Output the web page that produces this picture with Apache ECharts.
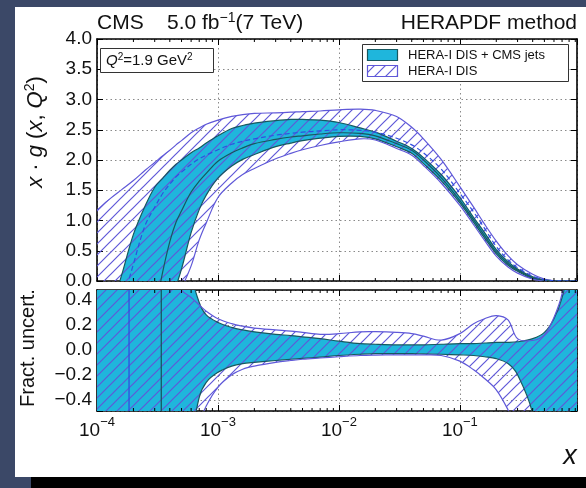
<!DOCTYPE html>
<html><head><meta charset="utf-8">
<script src="https://cdn.jsdelivr.net/npm/echarts@6/dist/echarts.min.js"></script>
<style>
html,body{margin:0;padding:0;background:#3b4867;width:586px;height:488px;overflow:hidden;}
#panel{position:absolute;left:15px;top:7px;width:571px;height:470px;background:#fff;}
#bar{position:absolute;left:31px;top:477px;width:555px;height:11px;background:#000;}
#c{position:absolute;left:0;top:0;width:586px;height:488px;}
</style>
</head><body>
<div id="panel"></div><div id="bar"></div><div id="c"></div>
<script>
// ---------------- data ----------------
const xs = [1e-4,1.3e-4,1.6e-4,2e-4,2.5e-4,3e-4,3.5e-4,4e-4,4.5e-4,5e-4,6e-4,7e-4,8e-4,1e-3,1.3e-3,1.6e-3,2e-3,3e-3,4e-3,5e-3,7e-3,0.01,0.015,0.02,0.03,0.04,0.05,0.07,0.1,0.13,0.16,0.2,0.25,0.3,0.4,0.5,0.6,0.7,0.8,0.93];

// top panel: x*g(x,Q^2)
const cmsUp  = [-1.3,-0.5,0.1,0.77,1.24,1.55,1.7,1.83,1.93,2.0,2.12,2.2,2.28,2.40,2.52,2.57,2.61,2.65,2.67,2.67,2.66,2.62,2.53,2.46,2.31,2.19,2.04,1.76,1.38,1.05,0.80,0.52,0.32,0.20,0.07,0.02,0.005,0,0,0];
const cmsLo  = [-3.0,-2.5,-2.0,-1.5,-1.1,-0.75,-0.5,-0.3,-0.08,0.2,0.8,1.18,1.42,1.70,1.90,2.01,2.09,2.22,2.28,2.32,2.36,2.39,2.39,2.35,2.22,2.11,1.94,1.66,1.29,0.97,0.71,0.45,0.26,0.16,0.04,0.01,0.002,0,0,0];
const cmsC   = [-3.0,-2.4,-1.9,-1.4,-1.0,-0.5,0.16,0.65,0.97,1.16,1.47,1.65,1.78,1.98,2.12,2.20,2.27,2.34,2.38,2.40,2.43,2.45,2.44,2.40,2.27,2.16,2.00,1.71,1.33,1.01,0.75,0.48,0.29,0.18,0.055,0.015,0.003,0,0,0];
const heraUp = [1.17,1.37,1.51,1.66,1.83,1.96,2.07,2.16,2.25,2.32,2.45,2.53,2.59,2.66,2.72,2.75,2.77,2.78,2.79,2.80,2.81,2.83,2.84,2.82,2.72,2.54,2.35,2.01,1.56,1.22,0.94,0.66,0.42,0.27,0.11,0.03,0.005,0,0,0];
const heraLo = [-3.0,-2.6,-2.2,-1.8,-1.4,-1.0,-0.75,-0.5,-0.3,-0.12,0.25,0.68,0.96,1.38,1.62,1.76,1.86,2.02,2.11,2.17,2.24,2.30,2.35,2.33,2.19,2.08,1.91,1.62,1.25,0.93,0.67,0.41,0.23,0.13,0.03,0.005,0,0,0,0];
const heraC  = [-2.0,-1.0,-0.4,0.28,0.92,1.22,1.45,1.60,1.72,1.80,1.93,2.02,2.08,2.17,2.26,2.31,2.35,2.41,2.44,2.46,2.48,2.50,2.49,2.46,2.36,2.25,2.12,1.85,1.45,1.14,0.87,0.57,0.35,0.22,0.08,0.02,0.005,0,0,0];

// bottom panel: fractional uncertainty
const fracCmsUp  = [3,3,3,3,3,3,3,3,2.5,1.5,0.62,0.38,0.28,0.22,0.18,0.16,0.145,0.125,0.115,0.105,0.09,0.07,0.05,0.045,0.04,0.04,0.04,0.045,0.05,0.05,0.055,0.06,0.06,0.065,0.09,0.14,0.25,0.42,0.7,1.5];
const fracCmsLo  = [-3,-3,-3,-3,-3,-3,-3,-3,-3,-1.5,-0.75,-0.38,-0.26,-0.18,-0.13,-0.11,-0.1,-0.085,-0.075,-0.068,-0.058,-0.045,-0.035,-0.03,-0.03,-0.03,-0.032,-0.035,-0.04,-0.045,-0.055,-0.07,-0.11,-0.2,-0.52,-1.5,-3,-3,-3,-3];
const fracHeraUp = [3,3,3,3,3,3,3,1.0,0.62,0.48,0.42,0.36,0.31,0.25,0.21,0.19,0.175,0.16,0.15,0.14,0.125,0.13,0.145,0.146,0.14,0.13,0.11,0.078,0.13,0.21,0.25,0.275,0.24,0.09,0.075,0.12,0.26,0.45,0.8,1.5];
const fracHeraLo = [-3,-3,-3,-3,-3,-3,-3,-3,-2.0,-1.5,-0.9,-0.6,-0.45,-0.3,-0.2,-0.155,-0.13,-0.1,-0.085,-0.075,-0.065,-0.055,-0.045,-0.042,-0.04,-0.04,-0.04,-0.045,-0.09,-0.16,-0.23,-0.32,-0.48,-0.65,-1.5,-3,-3,-3,-3,-3];

// x where the central values cross zero: [HERA-I DIS, HERA-I DIS + CMS jets]
const zeroCrossX = [1.84e-4, 3.4e-4];

const minorTicksX = [2e-4,3e-4,4e-4,5e-4,6e-4,7e-4,8e-4,9e-4,2e-3,3e-3,4e-3,5e-3,6e-3,7e-3,8e-3,9e-3,0.02,0.03,0.04,0.05,0.06,0.07,0.08,0.09,0.2,0.3,0.4,0.5,0.6,0.7,0.8,0.9];
const legendLabels = ['HERA-I DIS + CMS jets', 'HERA-I DIS'];

// ---------------- style ----------------
const FONT = '"Liberation Sans", Arial, Helvetica, sans-serif';
const CYAN = '#1fb6dc';
const CYAN_EDGE = '#17585f';
const HERA = '#5f58d8';
const HERA_C = '#2f4fe0';
const SMOOTH = 0.35;

function makeHatch(color, lw, s){
  const c = document.createElement('canvas'); c.width = s; c.height = s;
  const g = c.getContext('2d'); g.strokeStyle = color; g.lineWidth = lw;
  g.beginPath();
  g.moveTo(-2, s+2); g.lineTo(s+2, -2);
  g.moveTo(-2, 2); g.lineTo(2, -2);
  g.moveTo(s-2, s+2); g.lineTo(s+2, s-2);
  g.stroke();
  return c;
}
const hatch = {image: makeHatch(HERA, 1.2, 11), repeat: 'repeat'};

function bandSeries(xi, up, lo, fill, stroke, lw){
  return {
    type:'custom', xAxisIndex:xi, yAxisIndex:xi, clip:true, silent:true,
    data:[[xs[0], 0]],
    renderItem:(params, api)=>{
      const U = xs.map((x,i)=>api.coord([x, up[i]]));
      const L = xs.map((x,i)=>api.coord([x, lo[i]]));
      const ch = [];
      if (fill) ch.push({type:'polygon', shape:{points:U.concat(L.slice().reverse()), smooth:SMOOTH}, style:{fill:fill, stroke:null}});
      if (stroke) {
        ch.push({type:'polyline', shape:{points:U, smooth:SMOOTH}, style:{stroke:stroke, lineWidth:lw, fill:null}});
        ch.push({type:'polyline', shape:{points:L, smooth:SMOOTH}, style:{stroke:stroke, lineWidth:lw, fill:null}});
      }
      return {type:'group', children:ch};
    }
  };
}
function lineSeries(xi, vals, stroke, lw, dash){
  return {
    type:'custom', xAxisIndex:xi, yAxisIndex:xi, clip:true, silent:true,
    data:[[xs[0], 0]],
    renderItem:(params, api)=>({type:'polyline', shape:{points: xs.map((x,i)=>api.coord([x, vals[i]])), smooth:SMOOTH},
      style:{stroke:stroke, lineWidth:lw, fill:null, lineDash: dash || null}})
  };
}
function minorTickSeries(xi){
  return {
    type:'custom', xAxisIndex:xi, yAxisIndex:xi, silent:true,
    data: minorTicksX.map(v=>[v, 0]),
    renderItem:(params, api)=>{
      const cs = params.coordSys;
      const px = api.coord([api.value(0), 0])[0];
      return {type:'group', children:[
        {type:'line', shape:{x1:px, y1:cs.y+cs.height, x2:px, y2:cs.y+cs.height-3}, style:{stroke:'#000', lineWidth:1}},
        {type:'line', shape:{x1:px, y1:cs.y, x2:px, y2:cs.y+3}, style:{stroke:'#000', lineWidth:1}}
      ]};
    }
  };
}
function zeroLineSeries(xi){
  const cols = [HERA_C, CYAN_EDGE];
  return {
    type:'custom', xAxisIndex:xi, yAxisIndex:xi, silent:true,
    data: zeroCrossX.map(v=>[v, 0]),
    renderItem:(params, api)=>{
      const cs = params.coordSys;
      const px = api.coord([api.value(0), 0])[0];
      return {type:'line', shape:{x1:px, y1:cs.y, x2:px, y2:cs.y+cs.height},
        style:{stroke:cols[params.dataIndex], lineWidth:1.3}};
    }
  };
}

const axisLineStyle = {color:'#000', width:1.6};
const dotted = {color:'#8a8a8a', width:1, type:[1.5,3]};
function xAx(grid, pos, labels, split){
  return {
    gridIndex:grid, type:'log', logBase:10, min:1e-4, max:0.93, position:pos,
    axisLine:{show:true, onZero:false, lineStyle:axisLineStyle},
    axisTick:{show:true, inside:true, length:6, lineStyle:{color:'#000', width:1}},
    splitLine:{show:split, lineStyle:dotted},
    axisLabel: labels ? {
      show:true, margin:5, color:'#111', fontFamily:FONT,
      formatter:(v)=>{
        const e = Math.log10(v); const r = Math.round(e);
        if (Math.abs(e-r) > 1e-6) return '';
        return '{b|10}{s|\u2212' + (-r) + '}';
      },
      rich:{
        b:{fontSize:19, fontFamily:FONT, color:'#111', lineHeight:24, verticalAlign:'bottom'},
        s:{fontSize:13, fontFamily:FONT, color:'#111', lineHeight:14, verticalAlign:'top'}
      }
    } : {show:false}
  };
}
function yAx(grid, pos, labels, split, range){
  const o = {
    gridIndex:grid, type:'value', position:pos, min:range[0], max:range[1],
    axisLine:{show:true, onZero:false, lineStyle:axisLineStyle},
    axisTick:{show:true, inside:true, length:6, lineStyle:{color:'#000', width:1}},
    splitLine:{show:split, lineStyle:dotted},
    axisLabel: labels ? {
      show:true, margin:5, fontSize:19, fontFamily:FONT, color:'#111',
      formatter:(v)=>{
        if (v < range[0] + 1e-6 && grid===1) return '';
        if (v > range[1] - 1e-6 && grid===1) return '';
        return (v < -1e-9 ? '\u2212' : '') + Math.abs(v).toFixed(1);
      }
    } : {show:false}
  };
  if (range[2]) o.interval = range[2]; else o.splitNumber = 5;
  return o;
}

const topRange = [0, 4, 0.5];
const botRange = [-0.49, 0.48];

const option = {
  animation:false,
  backgroundColor:'transparent',
  grid:[
    {left:97, top:39, width:480, height:242},
    {left:97, top:290, width:480, height:121}
  ],
  xAxis:[
    xAx(0,'bottom',false,true), xAx(0,'top',false,false),
    xAx(1,'bottom',true,true), xAx(1,'top',false,false)
  ],
  yAxis:[
    yAx(0,'left',true,true,topRange), yAx(0,'right',false,false,topRange),
    yAx(1,'left',true,true,botRange), yAx(1,'right',false,false,botRange)
  ],
  series:[
    bandSeries(0, cmsUp, cmsLo, CYAN, null, 0),
    bandSeries(0, heraUp, heraLo, hatch, null, 0),
    bandSeries(0, cmsUp, cmsLo, null, CYAN_EDGE, 1.2),
    bandSeries(0, heraUp, heraLo, null, HERA, 1.2),
    lineSeries(0, cmsC, CYAN_EDGE, 1.2, null),
    lineSeries(0, heraC, HERA_C, 1.2, [5,3]),
    minorTickSeries(0),

    bandSeries(2, fracCmsUp, fracCmsLo, CYAN, null, 0),
    bandSeries(2, fracHeraUp, fracHeraLo, hatch, null, 0),
    bandSeries(2, fracCmsUp, fracCmsLo, null, CYAN_EDGE, 1.2),
    bandSeries(2, fracHeraUp, fracHeraLo, null, HERA, 1.2),
    zeroLineSeries(2),
    minorTickSeries(2)
  ],
  graphic:[
    {type:'text', x:97, y:23, style:{text:'CMS', fontSize:21, fontFamily:FONT, fill:'#111', verticalAlign:'middle'}},
    {type:'text', x:167, y:23, style:{text:'{n|5.0 fb}{s|\u22121}{n|(7 TeV)}', verticalAlign:'middle',
      rich:{n:{fontSize:21, fontFamily:FONT, fill:'#111', lineHeight:24}, s:{fontSize:14, fontFamily:FONT, fill:'#111', lineHeight:14, verticalAlign:'top'}}}},
    {type:'text', x:577, y:23, style:{text:'HERAPDF method', fontSize:21, fontFamily:FONT, fill:'#111', align:'right', verticalAlign:'middle'}},
    // Q^2 box
    {type:'rect', shape:{x:100.5, y:48.5, width:113, height:24}, style:{fill:'#fff', stroke:'#333', lineWidth:1}, z:100},
    {type:'text', x:106, y:61, z:101, style:{text:'{i|Q}{s|2}{n|=1.9 GeV}{s|2}', verticalAlign:'middle',
      rich:{n:{fontSize:15, fontFamily:FONT, fill:'#111', lineHeight:18}, i:{fontSize:15, fontFamily:FONT, fontStyle:'italic', fill:'#111', lineHeight:18}, s:{fontSize:10, fontFamily:FONT, fill:'#111', lineHeight:10, verticalAlign:'top'}}}},
    // legend
    {type:'rect', shape:{x:362.5, y:44.5, width:206, height:37}, style:{fill:'#fff', stroke:'#333', lineWidth:1}, z:100},
    {type:'rect', shape:{x:367.5, y:49.5, width:30, height:11}, style:{fill:CYAN, stroke:CYAN_EDGE, lineWidth:1.2}, z:101},
    {type:'rect', shape:{x:367.5, y:65.5, width:30, height:11}, style:{fill:hatch, stroke:HERA, lineWidth:1.2}, z:101},
    {type:'text', x:408, y:55.5, z:101, style:{text:legendLabels[0], fontSize:13, fontFamily:FONT, fill:'#111', verticalAlign:'middle'}},
    {type:'text', x:408, y:71.5, z:101, style:{text:legendLabels[1], fontSize:13, fontFamily:FONT, fill:'#111', verticalAlign:'middle'}},
    // axis titles
    {type:'text', x:36, y:132, rotation:Math.PI/2, style:{text:'{i|x}{n| \u00b7 }{i|g}{n| (}{i|x}{n|, }{i|Q}{s|2}{n|)}', align:'center', verticalAlign:'middle',
      rich:{n:{fontSize:22, fontFamily:FONT, fill:'#111', lineHeight:26}, i:{fontSize:22, fontFamily:FONT, fontStyle:'italic', fill:'#111', lineHeight:26}, s:{fontSize:14, fontFamily:FONT, fill:'#111', lineHeight:14, verticalAlign:'top'}}}},
    {type:'text', x:28, y:348, rotation:Math.PI/2, style:{text:'Fract. uncert.', fontSize:20, fontFamily:FONT, fill:'#111', align:'center', verticalAlign:'middle'}},
    {type:'text', x:570, y:456, style:{text:'x', fontSize:27, fontFamily:FONT, fontStyle:'italic', fill:'#111', align:'center', verticalAlign:'middle'}}
  ]
};
const chart = echarts.init(document.getElementById('c'), null, {renderer:'canvas'});
chart.setOption(option);
</script>
</body></html>
